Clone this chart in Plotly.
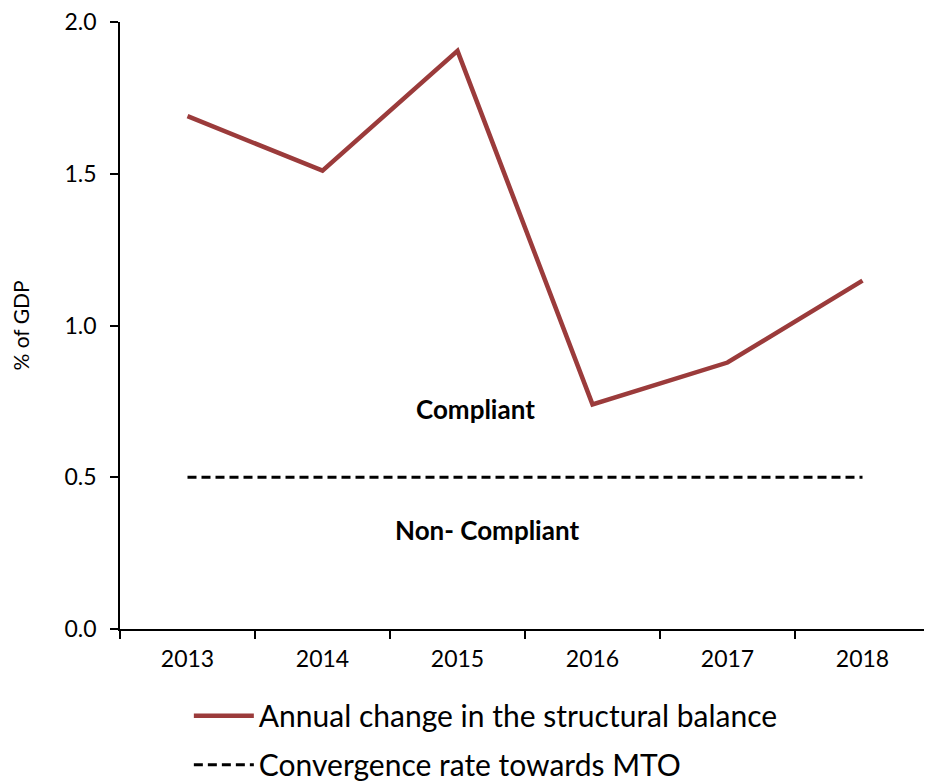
import plotly.graph_objects as go

years = ["2013", "2014", "2015", "2016", "2017", "2018"]
structural_change = [1.69, 1.51, 1.905, 0.74, 0.878, 1.148]
convergence_rate = [0.5, 0.5, 0.5, 0.5, 0.5, 0.5]
y_ticks = [0.0, 0.5, 1.0, 1.5, 2.0]

FONT = "Lato, 'Open Sans', sans-serif"

fig = go.Figure()
fig.add_trace(go.Scatter(
    x=years, y=structural_change, mode="lines",
    name="Annual change in the structural balance", legendgroup="a",
    line=dict(color="#9B3B3B", width=4.5),
))
fig.add_trace(go.Scatter(
    x=years, y=convergence_rate, mode="lines",
    name="Convergence rate towards MTO", legendgroup="b",
    line=dict(color="black", width=3, dash="9px,5px"),
))

fig.add_annotation(x=2.13, y=0.724, xref="x", yref="y", text="<b>Compliant</b>",
                   showarrow=False, font=dict(size=26, color="black", family=FONT))
fig.add_annotation(x=2.22, y=0.326, xref="x", yref="y", text="<b>Non- Compliant</b>",
                   showarrow=False, font=dict(size=26, color="black", family=FONT))

fig.update_layout(
    width=924, height=773,
    margin=dict(l=112, r=2, t=14, b=152, autoexpand=False),
    paper_bgcolor="white", plot_bgcolor="white",
    font=dict(family=FONT, color="black", size=22),
    showlegend=True,
    legend=dict(orientation="v", x=0.085, y=-0.1, xanchor="left", yanchor="top",
                font=dict(size=30, family=FONT), itemwidth=60, tracegroupgap=7),
)
fig.update_xaxes(
    type="category", range=[-0.5, 5.5], tickson="boundaries",
    showline=True, linecolor="black", linewidth=1.5,
    ticks="outside", ticklen=8, tickcolor="black", tickwidth=1.5,
    showgrid=False, zeroline=False, tickfont=dict(size=23), automargin=False,
    ticklabelstandoff=9,
)
fig.update_yaxes(
    range=[0, 2.0], tickvals=y_ticks, ticktext=[f"{v:.1f}" for v in y_ticks],
    showline=True, linecolor="black", linewidth=1.5,
    ticks="outside", ticklen=8, tickcolor="black", tickwidth=1.5,
    showgrid=False, zeroline=False, tickfont=dict(size=23), automargin=False,
    ticklabelstandoff=9, ticklabeloverflow="allow",
    title=dict(text="% of GDP", font=dict(size=21), standoff=34),
)

fig.write_html("out.html")
